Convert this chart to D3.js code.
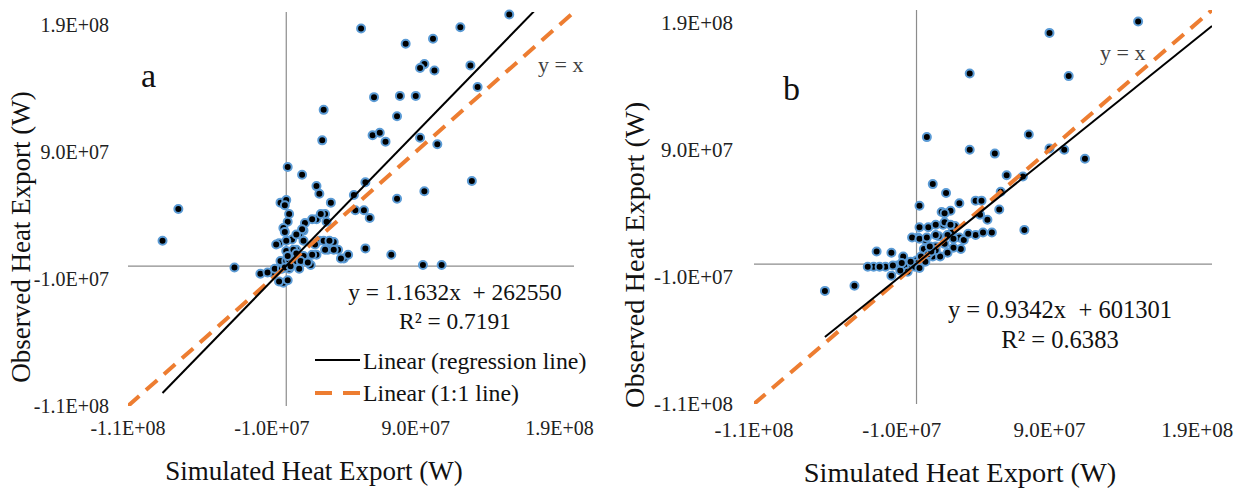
<!DOCTYPE html>
<html>
<head>
<meta charset="utf-8">
<script src="https://cdnjs.cloudflare.com/ajax/libs/d3/7.8.5/d3.min.js"></script>
<style>
  body { margin: 0; background: #fff; }
  text { font-family: "Liberation Serif", "Times New Roman", serif; white-space: pre; }
</style>
</head>
<body>
<svg id="chart" width="1234" height="492"></svg>
<script>
// values in 1E+06 W
var simA = [155,52,121,102,83,96,93,103,128,133, 61,79,90,26,77,60,65,69,25,93,
  105,1,11,129,55,21,23,47,96,77, 31,-4,0,-1,-75,48,54,58,2,27,
  21,13,1,-2,12,-86,-5,4,9,33, 23,29,36,55,40,43,73,-36,95,108,
  -18,-10,-4,-2,1,17,7,0,-4,14, 21,26,18,24,11,7,28,-1,-7,0,
  5,12,20,30,27,33,38,18,-13,-8, -5,5,0,8,2,-3,12,7,3,2,
  4,6,-1,3,10,9,15,1];
var obsA = [198,187,188,179,175,159,156,154,158,141, 133,134,134,123,118,103,105,98,99,101,
  96,78,72,67,66,63,57,56,59,53, 50,50,52,48,45,44,44,38,41,41,
  37,34,35,30,28,20,18,21,25,19, 20,13,13,14,6,9,9,-1,1,1,
  -6,-5,-2,-13,-11,1,13,12,4,6, 9,20,37,41,29,25,35,27,17,20,
  13,20,17,20,13,13,6,9,-5,-2, -12,6,4,2,-2,-2,8,10,3,5,
  1,4,-1,0,4,-2,3,8];

var simB = [150,90,36,103,7,76,36,53,90,100, 114,61,72,11,20,57,2,40,44,29,
  56,23,43,48,73,40,51,29,30,26, 18,8,1,15,24,-27,-17,-29,-21,-17,
  -9,-42,-62,-13,-8,-6,13,11,16,5, 19,32,6,0,-3,3,17,19,2,13,
  19,23,-3,2,7,13,21,25,25,21, 13,7,35,45,-33,-25,-11,-16,-10,1,
  4,8,-1,2,6,10,3,-4,9];
var obsB = [191,182,150,148,100,102,90,87,91,90, 83,70,69,63,56,57,46,50,50,48,
  43,42,39,35,27,23,25,21,12,30, 31,29,21,22,25,10,9,-2,-2,-9,
  6,-17,-21,-1,-2,-6,14,6,6,12, 16,19,19,3,-1,1,41,40,29,31,
  33,31,21,20,21,23,23,20,13,9, 11,6,24,25,-2,-2,-5,-1,1,1,
  4,8,-2,-3,2,10,6,2,14];

var tickVals = [-110, -10, 90, 190];
var tickLabels = ["-1.1E+08", "-1.0E+07", "9.0E+07", "1.9E+08"];
var axisMin = -110, axisMax = 200;

var fitA = { slope: 1.1632, icpt: 0.262550 };
var fitB = { slope: 0.9342, icpt: 0.601301 };

var svg = d3.select("#chart");
svg.append("rect").attr("width", 1234).attr("height", 492).attr("fill", "#fff");

function panel(o) {
  var x = d3.scaleLinear().domain([axisMin, axisMax]).range([o.left, o.right]);
  var y = d3.scaleLinear().domain([axisMin, axisMax]).range([o.bottom, o.top]);
  var g = svg.append("g");
  var fs = o.k;

  g.append("clipPath").attr("id", "clip" + o.id).append("rect")
    .attr("x", o.left).attr("y", o.top)
    .attr("width", o.right - o.left).attr("height", o.bottom - o.top);

  // axis lines crossing at zero
  g.append("line").attr("x1", x(0)).attr("x2", x(0)).attr("y1", o.top).attr("y2", o.bottom)
    .attr("stroke", "#8c8c8c").attr("stroke-width", 1.2);
  g.append("line").attr("x1", o.left).attr("x2", o.right).attr("y1", y(0)).attr("y2", y(0))
    .attr("stroke", "#8c8c8c").attr("stroke-width", 1.2);

  // tick labels (low position)
  g.selectAll(".yl").data(tickVals).join("text").attr("class", "yl")
    .attr("x", o.yLabX).attr("y", d => y(d)).attr("dy", "0.35em")
    .attr("text-anchor", "end").attr("font-size", 20 * fs).attr("fill", "#222")
    .text((d, i) => tickLabels[i]);
  g.selectAll(".xl").data(tickVals).join("text").attr("class", "xl")
    .attr("x", d => x(d)).attr("y", o.xLabY)
    .attr("text-anchor", "middle").attr("font-size", 20 * fs).attr("fill", "#222")
    .text((d, i) => tickLabels[i]);

  // points
  var pts = o.sx.map((d, i) => [d, o.oy[i]]);
  g.selectAll("circle").data(pts).join("circle")
    .attr("cx", d => x(d[0])).attr("cy", d => y(d[1])).attr("r", 4)
    .attr("fill", "#000").attr("stroke", "#5b9bd5").attr("stroke-width", 2);

  // 1:1 line
  g.append("line").attr("clip-path", "url(#clip" + o.id + ")")
    .attr("x1", x(axisMin)).attr("y1", y(axisMin)).attr("x2", x(axisMax)).attr("y2", y(axisMax))
    .attr("stroke", "#ed7d31").attr("stroke-width", 4).attr("stroke-dasharray", "15,9");

  // regression line
  var x0 = d3.min(o.sx);
  g.append("line").attr("clip-path", "url(#clip" + o.id + ")")
    .attr("x1", x(x0)).attr("y1", y(o.fit.slope * x0 + o.fit.icpt))
    .attr("x2", x(axisMax)).attr("y2", y(o.fit.slope * axisMax + o.fit.icpt))
    .attr("stroke", "#000").attr("stroke-width", 2);

  // titles
  g.append("text").attr("x", o.xTitle[0]).attr("y", o.xTitle[1]).attr("text-anchor", "middle")
    .attr("font-size", 27 * fs).attr("fill", "#111").text("Simulated Heat Export (W)");
  g.append("text").attr("transform", "translate(" + o.yTitle[0] + "," + o.yTitle[1] + ") rotate(-90)")
    .attr("text-anchor", "middle").attr("dy", "0.35em")
    .attr("font-size", 27 * fs).attr("fill", "#111").text("Observed Heat Export (W)");

  g.append("text").attr("x", o.letter[0]).attr("y", o.letter[1])
    .attr("font-size", 34).attr("fill", "#111").text(o.id);
  g.append("text").attr("x", o.yx[0]).attr("y", o.yx[1])
    .attr("font-size", 22).attr("fill", "#404040").text("y = x");

  g.append("text").attr("x", o.eq[0]).attr("y", o.eq[1]).attr("text-anchor", "middle")
    .attr("font-size", 23.4 * fs).attr("fill", "#111").text(o.eqText);
  g.append("text").attr("x", o.eq[0]).attr("y", o.eq[1] + 28.5 * fs).attr("text-anchor", "middle")
    .attr("font-size", 23.4 * fs).attr("fill", "#111").text(o.r2Text);
  return g;
}

var ga = panel({ id: "a", left: 128, right: 574, top: 12, bottom: 406, k: 1,
  sx: simA, oy: obsA, fit: fitA, yLabX: 109, xLabY: 435,
  xTitle: [314, 480], yTitle: [21, 237], letter: [141, 87], yx: [538, 72],
  eq: [455, 300], eqText: "y = 1.1632x  + 262550", r2Text: "R² = 0.7191" });

panel({ id: "b", left: 754, right: 1212, top: 10, bottom: 404, k: 1.05,
  sx: simB, oy: obsB, fit: fitB, yLabX: 733, xLabY: 437,
  xTitle: [960, 482], yTitle: [634, 255], letter: [783, 100], yx: [1100, 60],
  eq: [1060, 318], eqText: "y = 0.9342x  + 601301", r2Text: "R² = 0.6383" });

// legend (panel a)
var leg = ga.append("g");
leg.append("line").attr("x1", 315).attr("x2", 360).attr("y1", 360).attr("y2", 360)
  .attr("stroke", "#000").attr("stroke-width", 2);
leg.append("text").attr("x", 363).attr("y", 369).attr("font-size", 23.8).attr("fill", "#111")
  .text("Linear (regression line)");
leg.append("line").attr("x1", 315).attr("x2", 360).attr("y1", 393).attr("y2", 393)
  .attr("stroke", "#ed7d31").attr("stroke-width", 4).attr("stroke-dasharray", "17,11");
leg.append("text").attr("x", 363).attr("y", 401).attr("font-size", 23.8).attr("fill", "#111")
  .text("Linear (1:1 line)");
</script>
</body>
</html>
